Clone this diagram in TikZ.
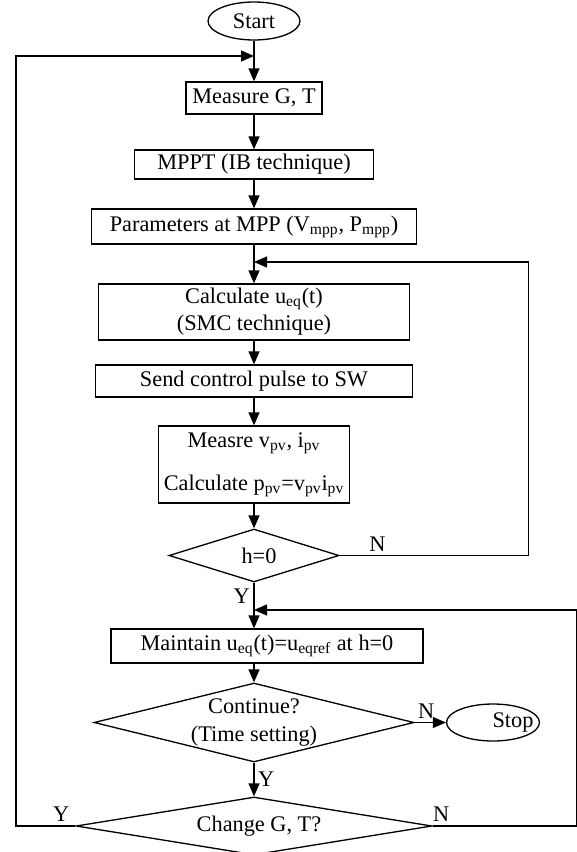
\documentclass[tikz,border=0pt]{standalone}
\usepackage{fontspec}
\setmainfont{Liberation Serif}
\usetikzlibrary{shapes,arrows.meta}

\begin{document}
\begin{tikzpicture}
[line width=0.75pt, x=0.02cm, y=-0.02cm,
 font=\fontsize{12.7}{15.5}\selectfont,
 >={Triangle[length=0.26cm,width=0.22cm]},
 box/.style={draw, rectangle, inner sep=0pt, align=center},
 oval/.style={draw, ellipse, inner sep=0pt},
 ask/.style={draw, diamond, inner sep=0pt},
 yn/.style={inner sep=2pt}]

\useasboundingbox (0,0) rectangle (577,852);

\node[oval, minimum width=1.84cm, minimum height=0.76cm] (start) at (254,21) {Start};
\node[box, minimum width=2.72cm, minimum height=0.64cm] (meas) at (254,98) {Measure G, T};
\node[box, minimum width=4.78cm, minimum height=0.58cm] (mppt) at (254,164.5) {MPPT (IB technique)};
\node[box, minimum width=6.5cm, minimum height=0.7cm] (param) at (254,226.5) {Parameters at MPP (V\textsubscript{mpp}, P\textsubscript{mpp})};
\node[box, minimum width=6.22cm, minimum height=1.12cm] (calc) at (254,312) {Calculate u\textsubscript{eq}(t)\\(SMC technique)};
\node[box, minimum width=6.34cm, minimum height=0.64cm] (send) at (254,381) {Send control pulse to SW};
\node[box, minimum width=3.82cm, minimum height=1.54cm] (pv) at (254,464.5) {Measre v\textsubscript{pv}, i\textsubscript{pv}\\[9pt]Calculate p\textsubscript{pv}=v\textsubscript{pv}i\textsubscript{pv}};
\node[ask, minimum width=3.4cm, minimum height=1.06cm, label={[xshift=0.1cm]center:{h=0}}] (hz) at (254,555.5) {};
\node[box, minimum width=6.24cm, minimum height=0.68cm] (keep) at (267,646) {Maintain u\textsubscript{eq}(t)=u\textsubscript{eqref} at h=0};
\node[ask, minimum width=6.4cm, minimum height=1.58cm, label={[align=center]center:{Continue?\\(Time setting)}}] (cont) at (254,722.5) {};
\node[oval, minimum width=1.86cm, minimum height=0.74cm, label={[xshift=0.4cm]center:{Stop}}] (stop) at (493,722.5) {};
\node[ask, minimum width=7.12cm, minimum height=1.16cm, label={[xshift=0.1cm]center:{Change G, T?}}] (chg) at (254,826) {};

\coordinate (j1) at (254,56); %from Change G, T (Y)
\coordinate (j2) at (254,262); %from h=0 (N)
\coordinate (j3) at (254,610); %from Change G, T (N)

\draw[->] (start) -- (meas);
\draw[->] (meas) -- (mppt);
\draw[->] (mppt) -- (param);
\draw[->] (param) -- (calc);
\draw[->] (calc) -- (send);
\draw[->] (send) -- (pv);
\draw[->] (pv) -- (hz);
\draw (hz) -- node[yn, left]{Y} (j3);
\draw[->] (j3) -- (keep.north -| j3);
\draw[->] (keep.south -| cont) -- (cont);
\draw[->] (cont) -- node[yn, right]{Y} (chg);
\draw[->] (cont) -- node[yn, above, pos=0.37]{N} (stop);

% loops back
\draw[->] (hz.east) -- node[yn, above, pos=0.2]{N} ++(189,0) |- (j2);
\draw[->] (chg.west) -- node[yn, above, pos=0.24]{Y} ++(-59.4,0) |- (j1);
\draw[->] (chg.east) -- node[yn, above, pos=0.06]{N} ++(144,0) |- (j3);

\end{tikzpicture}
\end{document}
